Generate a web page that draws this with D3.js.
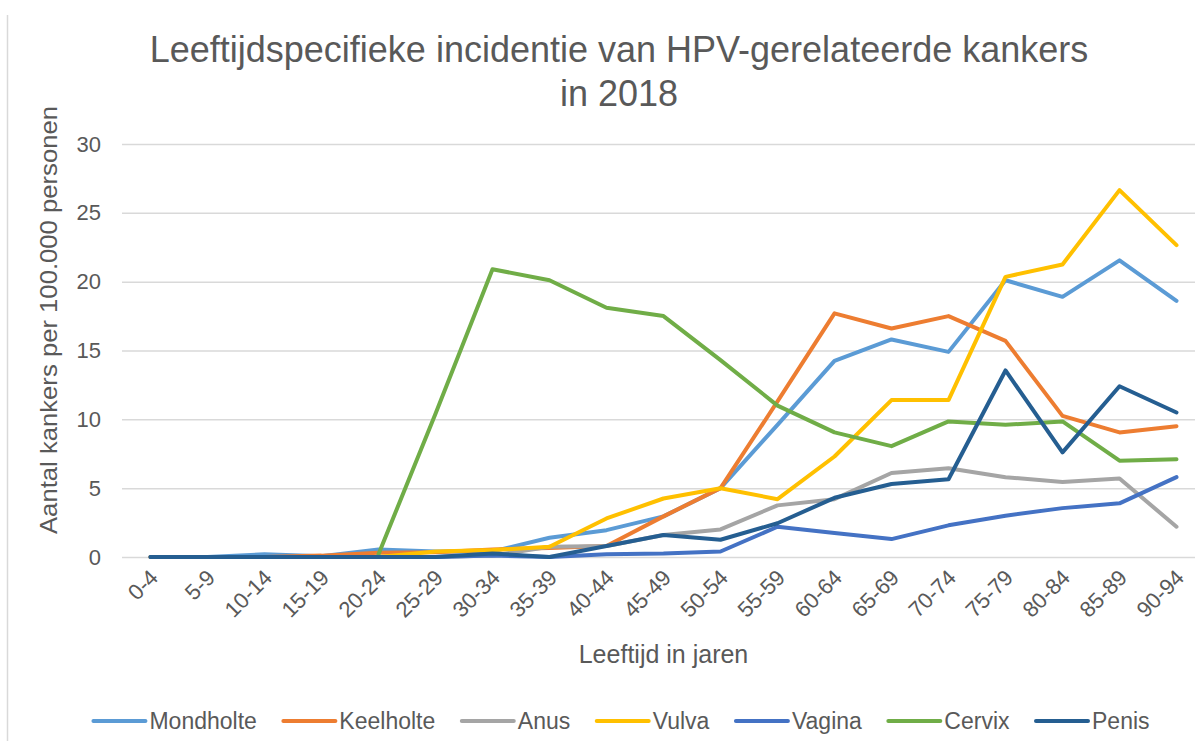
<!DOCTYPE html>
<html>
<head>
<meta charset="utf-8">
<script src="https://cdn.jsdelivr.net/npm/d3@7"></script>
<style>
  body { margin: 0; background: #fff; }
  text { font-family: "Liberation Sans", Arial, sans-serif; fill: #595959; }
</style>
</head>
<body>
<svg id="chart" width="1195" height="741"></svg>
<script>
// age groups on the x axis
const ageGroups = ["0-4", "5-9", "10-14", "15-19", "20-24", "25-29", "30-34", "35-39", "40-44",
  "45-49", "50-54", "55-59", "60-64", "65-69", "70-74", "75-79", "80-84", "85-89", "90-94"];

// incidence per 100.000
const mondholte = [0, 0, 0.2, 0.05, 0.55, 0.4, 0.4, 1.4, 1.95, 2.95, 5.0, 9.6, 14.25, 15.8, 14.9, 20.1, 18.9, 21.55, 18.6];
const keelholte = [0, 0, 0, 0.1, 0.3, 0.35, 0.55, 0.65, 0.8, 2.95, 5.0, 11.3, 17.7, 16.6, 17.5, 15.7, 10.25, 9.05, 9.5];
const anus      = [0, 0, 0, 0, 0, 0, 0.1, 0.75, 0.8, 1.6, 2.0, 3.75, 4.2, 6.1, 6.45, 5.8, 5.45, 5.7, 2.2];
const vulva     = [0, 0, 0, 0, 0, 0.4, 0.5, 0.75, 2.8, 4.25, 5.0, 4.2, 7.3, 11.4, 11.4, 20.35, 21.25, 26.65, 22.65];
const vagina    = [0, 0, 0, 0, 0, 0, 0.1, 0, 0.2, 0.25, 0.4, 2.2, 1.75, 1.3, 2.3, 3.0, 3.55, 3.9, 5.8];
const cervix    = [null, null, null, null, 0.2, 10.4, 20.9, 20.1, 18.1, 17.5, 14.3, 11.0, 9.05, 8.05, 9.85, 9.6, 9.85, 7.0, 7.1];
const penis     = [0, 0, 0, 0, 0, 0, 0.25, 0, 0.8, 1.6, 1.25, 2.45, 4.3, 5.3, 5.65, 13.55, 7.6, 12.4, 10.5];

const seriesNames = ["Mondholte", "Keelholte", "Anus", "Vulva", "Vagina", "Cervix", "Penis"];
const seriesValues = [mondholte, keelholte, anus, vulva, vagina, cervix, penis];
const seriesColors = ["#5b9bd5", "#ed7d31", "#a5a5a5", "#ffc000", "#4472c4", "#70ad47", "#255e91"];
const yTicks = [0, 5, 10, 15, 20, 25, 30];

const svg = d3.select("#chart");

// plot area
const plotLeft = 122, plotRight = 1205, plotTop = 144, plotBottom = 557;

const x = d3.scaleBand().domain(ageGroups).range([plotLeft, plotRight]).paddingInner(0).paddingOuter(0);
const y = d3.scaleLinear().domain([0, 30]).range([plotBottom, plotTop]);
const cx = d => x(d) + x.bandwidth() / 2;

// chart border (only the left edge is visible)
svg.append("line")
  .attr("x1", 7.5).attr("x2", 7.5)
  .attr("y1", 15).attr("y2", 741)
  .attr("stroke", "#d9d9d9")
  .attr("stroke-width", 1.5);

// title
const title = svg.append("text")
  .attr("text-anchor", "middle")
  .style("font-size", "36px");
title.append("tspan").attr("x", 619).attr("y", 62).text("Leeftijdspecifieke incidentie van HPV-gerelateerde kankers");
title.append("tspan").attr("x", 619).attr("y", 106).text("in 2018");

// gridlines + y labels
const yAxis = d3.axisLeft(y).tickValues(yTicks).tickSize(-(plotRight - plotLeft)).tickPadding(21);
const gy = svg.append("g")
  .attr("transform", `translate(${plotLeft},0)`)
  .call(yAxis);
gy.select(".domain").remove();
gy.selectAll(".tick line").attr("stroke", "#d9d9d9").attr("stroke-width", 1.5);
gy.selectAll(".tick text")
  .style("font-size", "22px")
  .style("font-family", "Liberation Sans, Arial, sans-serif")
  .attr("fill", "#595959");

// x labels, rotated
const xAxis = d3.axisBottom(x).tickSize(0).tickPadding(0);
const gx = svg.append("g")
  .attr("transform", `translate(0,${plotBottom})`)
  .call(xAxis);
gx.select(".domain").remove();
gx.selectAll(".tick text")
  .style("font-size", "22px")
  .style("font-family", "Liberation Sans, Arial, sans-serif")
  .attr("fill", "#595959")
  .attr("text-anchor", "end")
  .attr("dy", 0)
  .attr("transform", "translate(9,22) rotate(-45)");

// axis titles
svg.append("text")
  .attr("text-anchor", "middle")
  .attr("transform", "translate(57,320) rotate(-90)")
  .attr("textLength", 428)
  .attr("lengthAdjust", "spacingAndGlyphs")
  .style("font-size", "24px")
  .text("Aantal kankers per 100.000 personen");

svg.append("text")
  .attr("x", (plotLeft + plotRight) / 2)
  .attr("y", 663)
  .attr("text-anchor", "middle")
  .style("font-size", "25px")
  .text("Leeftijd in jaren");

// lines
const line = d3.line()
  .defined(d => d.v !== null)
  .x(d => cx(d.age))
  .y(d => y(d.v));

seriesNames.forEach((name, i) => {
  const pts = ageGroups.map((age, j) => ({ age: age, v: seriesValues[i][j] }));
  svg.append("path")
    .datum(pts)
    .attr("fill", "none")
    .attr("stroke", seriesColors[i])
    .attr("stroke-width", 4)
    .attr("stroke-linejoin", "round")
    .attr("stroke-linecap", "round")
    .attr("d", line);
});

// legend, laid out in one centred row
const gap = 26.5;
const legend = svg.append("g");
let pos = 0;
seriesNames.forEach((name, i) => {
  const item = legend.append("g").attr("transform", `translate(${pos},0)`);
  item.append("line")
    .attr("x1", 0).attr("x2", 52)
    .attr("y1", 0).attr("y2", 0)
    .attr("stroke", seriesColors[i])
    .attr("stroke-width", 4)
    .attr("stroke-linecap", "round");
  const t = item.append("text")
    .attr("x", 56)
    .attr("y", 8)
    .style("font-size", "23px")
    .text(name);
  pos += 56 + t.node().getComputedTextLength() + gap;
});
const legendWidth = pos - gap;
legend.attr("transform", `translate(${621.5 - legendWidth / 2},721)`);
</script>
</body>
</html>
